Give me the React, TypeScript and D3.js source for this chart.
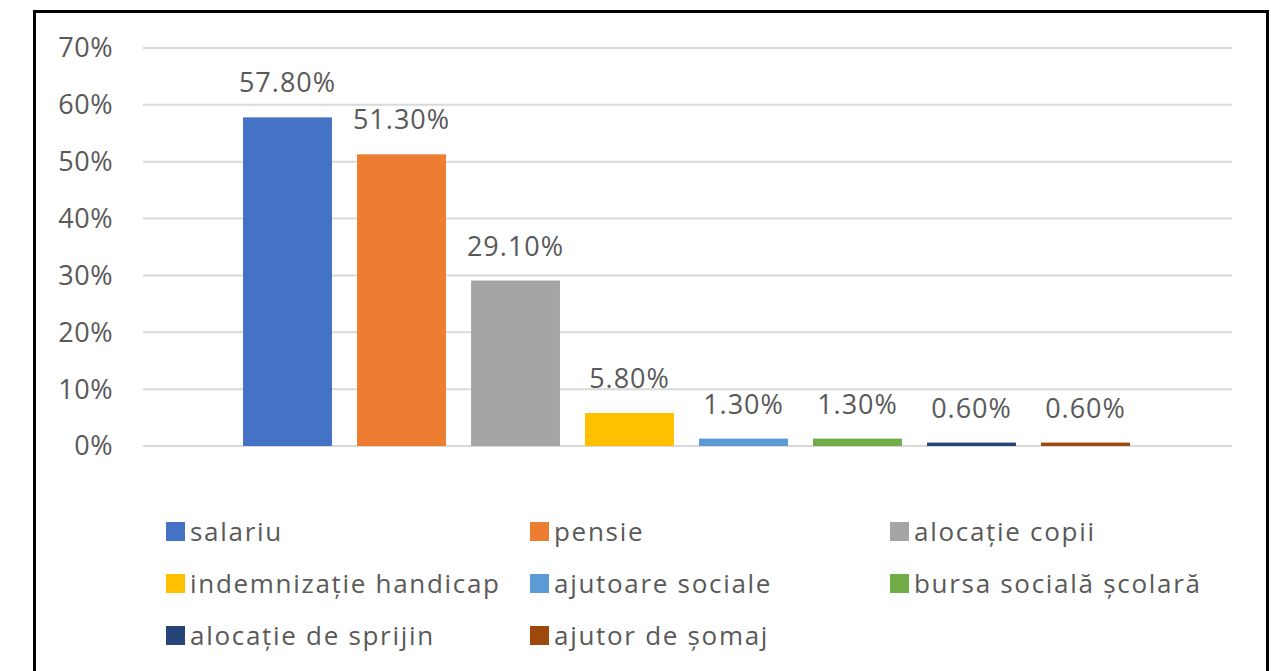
import React from 'react'
import { scaleBand, scaleLinear } from 'd3'

const series = ['salariu', 'pensie', 'alocație copii', 'indemnizație handicap', 'ajutoare sociale', 'bursa socială școlară', 'alocație de sprijin', 'ajutor de șomaj']
const values = [0.578, 0.513, 0.291, 0.058, 0.013, 0.013, 0.006, 0.006]
const colors = ['#4472C4', '#ED7D31', '#A5A5A5', '#FFC000', '#5B9BD5', '#70AD47', '#264478', '#9E480E']
const yTicks = [0, 0.1, 0.2, 0.3, 0.4, 0.5, 0.6, 0.7]

const FONT = '"Open Sans", sans-serif'
const TEXT = '#595959'

const App = () => {
    const x = scaleBand<string>()
        .domain(series)
        .range([230.5, 1142.5])
        .paddingInner(0.22)
        .paddingOuter(0.11)

    const y = scaleLinear()
        .domain([0, 0.7])
        .range([446, 48])

    const pct = (v: number, d: number) => (v * 100).toFixed(d) + '%'

    // legend: 3 columns, rows of 3
    const legendCols = [166, 530, 890]
    const legendRows = [532, 584, 636]

    return (
        <svg width={1271} height={671} style={{ position: 'absolute', left: 0, top: 0 }} fontFamily={FONT}>
            <rect x={0} y={0} width={1271} height={671} fill='#fff' />
            <rect x={34.5} y={11.5} width={1233} height={700} fill='#fff' stroke='#000' strokeWidth={3} />

            {yTicks.map(t => (
                <g key={t}>
                    <line x1={143} x2={1232} y1={y(t)} y2={y(t)} stroke='#d9d9d9' strokeWidth={2} />
                    <text x={113} y={y(t)} dy='0.35em' textAnchor='end' fontSize={27} letterSpacing={0.5} fill={TEXT}>{pct(t, 0)}</text>
                </g>
            ))}

            {series.map((s, i) => (
                <g key={s}>
                    <rect x={x(s)} y={y(values[i])} width={x.bandwidth()} height={y(0) - y(values[i])} fill={colors[i]} />
                    <text x={(x(s) ?? 0) + x.bandwidth() / 2} y={y(values[i]) - 25} textAnchor='middle' fontSize={27} letterSpacing={1} fill={TEXT}>
                        {pct(values[i], 2)}
                    </text>
                </g>
            ))}

            {series.map((s, i) => {
                const lx = legendCols[i % 3]
                const ly = legendRows[Math.floor(i / 3)]
                return (
                    <g key={s}>
                        <rect x={lx} y={ly - 10} width={19} height={19} fill={colors[i]} />
                        <text x={lx + 24} y={ly} dy='0.35em' fontSize={26} letterSpacing={1.7} fill={TEXT}>{s}</text>
                    </g>
                )
            })}
        </svg>
    )
}

export default App
